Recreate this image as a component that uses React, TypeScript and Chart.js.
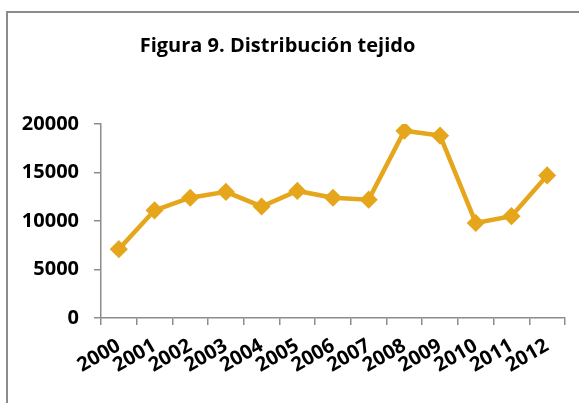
import React, { useEffect, useRef } from "react";
import { Chart, registerables } from "chart.js";

Chart.register(...registerables);

const categories = ["2000", "2001", "2002", "2003", "2004", "2005", "2006", "2007", "2008", "2009", "2010", "2011", "2012"];
const values = [7100, 11100, 12400, 13000, 11500, 13100, 12400, 12200, 19300, 18800, 9800, 10500, 14700];
const yTicks = [0, 5000, 10000, 15000, 20000];
const titleText = "Figura 9. Distribución tejido";

const LINE_COLOR = "#E5A61C";
const AXIS_COLOR = "#8C8C8C";
const FONT = "'Open Sans', 'DejaVu Sans', sans-serif";

export default function App() {
  const ref = useRef<HTMLCanvasElement | null>(null);

  useEffect(() => {
    if (!ref.current) return;
    const chart = new Chart(ref.current, {
      type: "line",
      data: {
        labels: categories,
        datasets: [
          {
            data: values,
            borderColor: LINE_COLOR,
            backgroundColor: LINE_COLOR,
            borderWidth: 4.5,
            pointStyle: "rectRot",
            pointRadius: 8,
            pointBorderWidth: 1.5,
            pointBackgroundColor: LINE_COLOR,
            pointBorderColor: LINE_COLOR,
            tension: 0,
          },
        ],
      },
      options: {
        animation: false,
        responsive: false,
        maintainAspectRatio: false,
        layout: { padding: { left: -10, right: 14, top: 0, bottom: 0 } },
        plugins: {
          legend: { display: false },
          tooltip: { enabled: false },
          title: {
            display: true,
            text: titleText,
            color: "#000",
            font: { family: FONT, size: 20, weight: "bold", lineHeight: 1.2 },
            padding: { top: 34, bottom: 66 },
          },
        },
        scales: {
          x: {
            type: "category",
            offset: true,
            grid: {
              display: true,
              offset: true,
              drawOnChartArea: false,
              drawTicks: true,
              tickLength: 7,
              color: AXIS_COLOR,
              lineWidth: 1.5,
            },
            border: { display: true, color: AXIS_COLOR, width: 1.5 },
            ticks: {
              color: "#000",
              font: { family: FONT, size: 20, weight: "bold" },
              maxRotation: 30,
              minRotation: 30,
              padding: 9,
              autoSkip: false,
            },
            afterFit: (scale: any) => {
              scale.height = 85;
            },
          },
          y: {
            min: 0,
            max: 20000,
            afterBuildTicks: (scale: any) => {
              scale.ticks = yTicks.map((v) => ({ value: v }));
            },
            grid: {
              display: true,
              drawOnChartArea: false,
              drawTicks: true,
              tickLength: 7,
              color: AXIS_COLOR,
              lineWidth: 1.5,
            },
            border: { display: true, color: AXIS_COLOR, width: 1.5 },
            ticks: {
              color: "#000",
              font: { family: FONT, size: 20, weight: "bold" },
              padding: 15,
              callback: (v: any) => String(v),
            },
            afterFit: (scale: any) => {
              scale.width = 111;
            },
          },
        },
      },
    });
    return () => chart.destroy();
  }, []);

  return (
    <div style={{ position: "fixed", left: 0, top: 0, width: 579, height: 403, background: "#fff" }}>
      <div
        style={{
          position: "absolute",
          left: 6,
          top: 11,
          right: -10,
          bottom: -10,
          borderLeft: `2px solid ${AXIS_COLOR}`,
          borderTop: `2px solid ${AXIS_COLOR}`,
        }}
      />
      <canvas ref={ref} width={579} height={403} style={{ position: "absolute", left: 0, top: 0 }} />
    </div>
  );
}
